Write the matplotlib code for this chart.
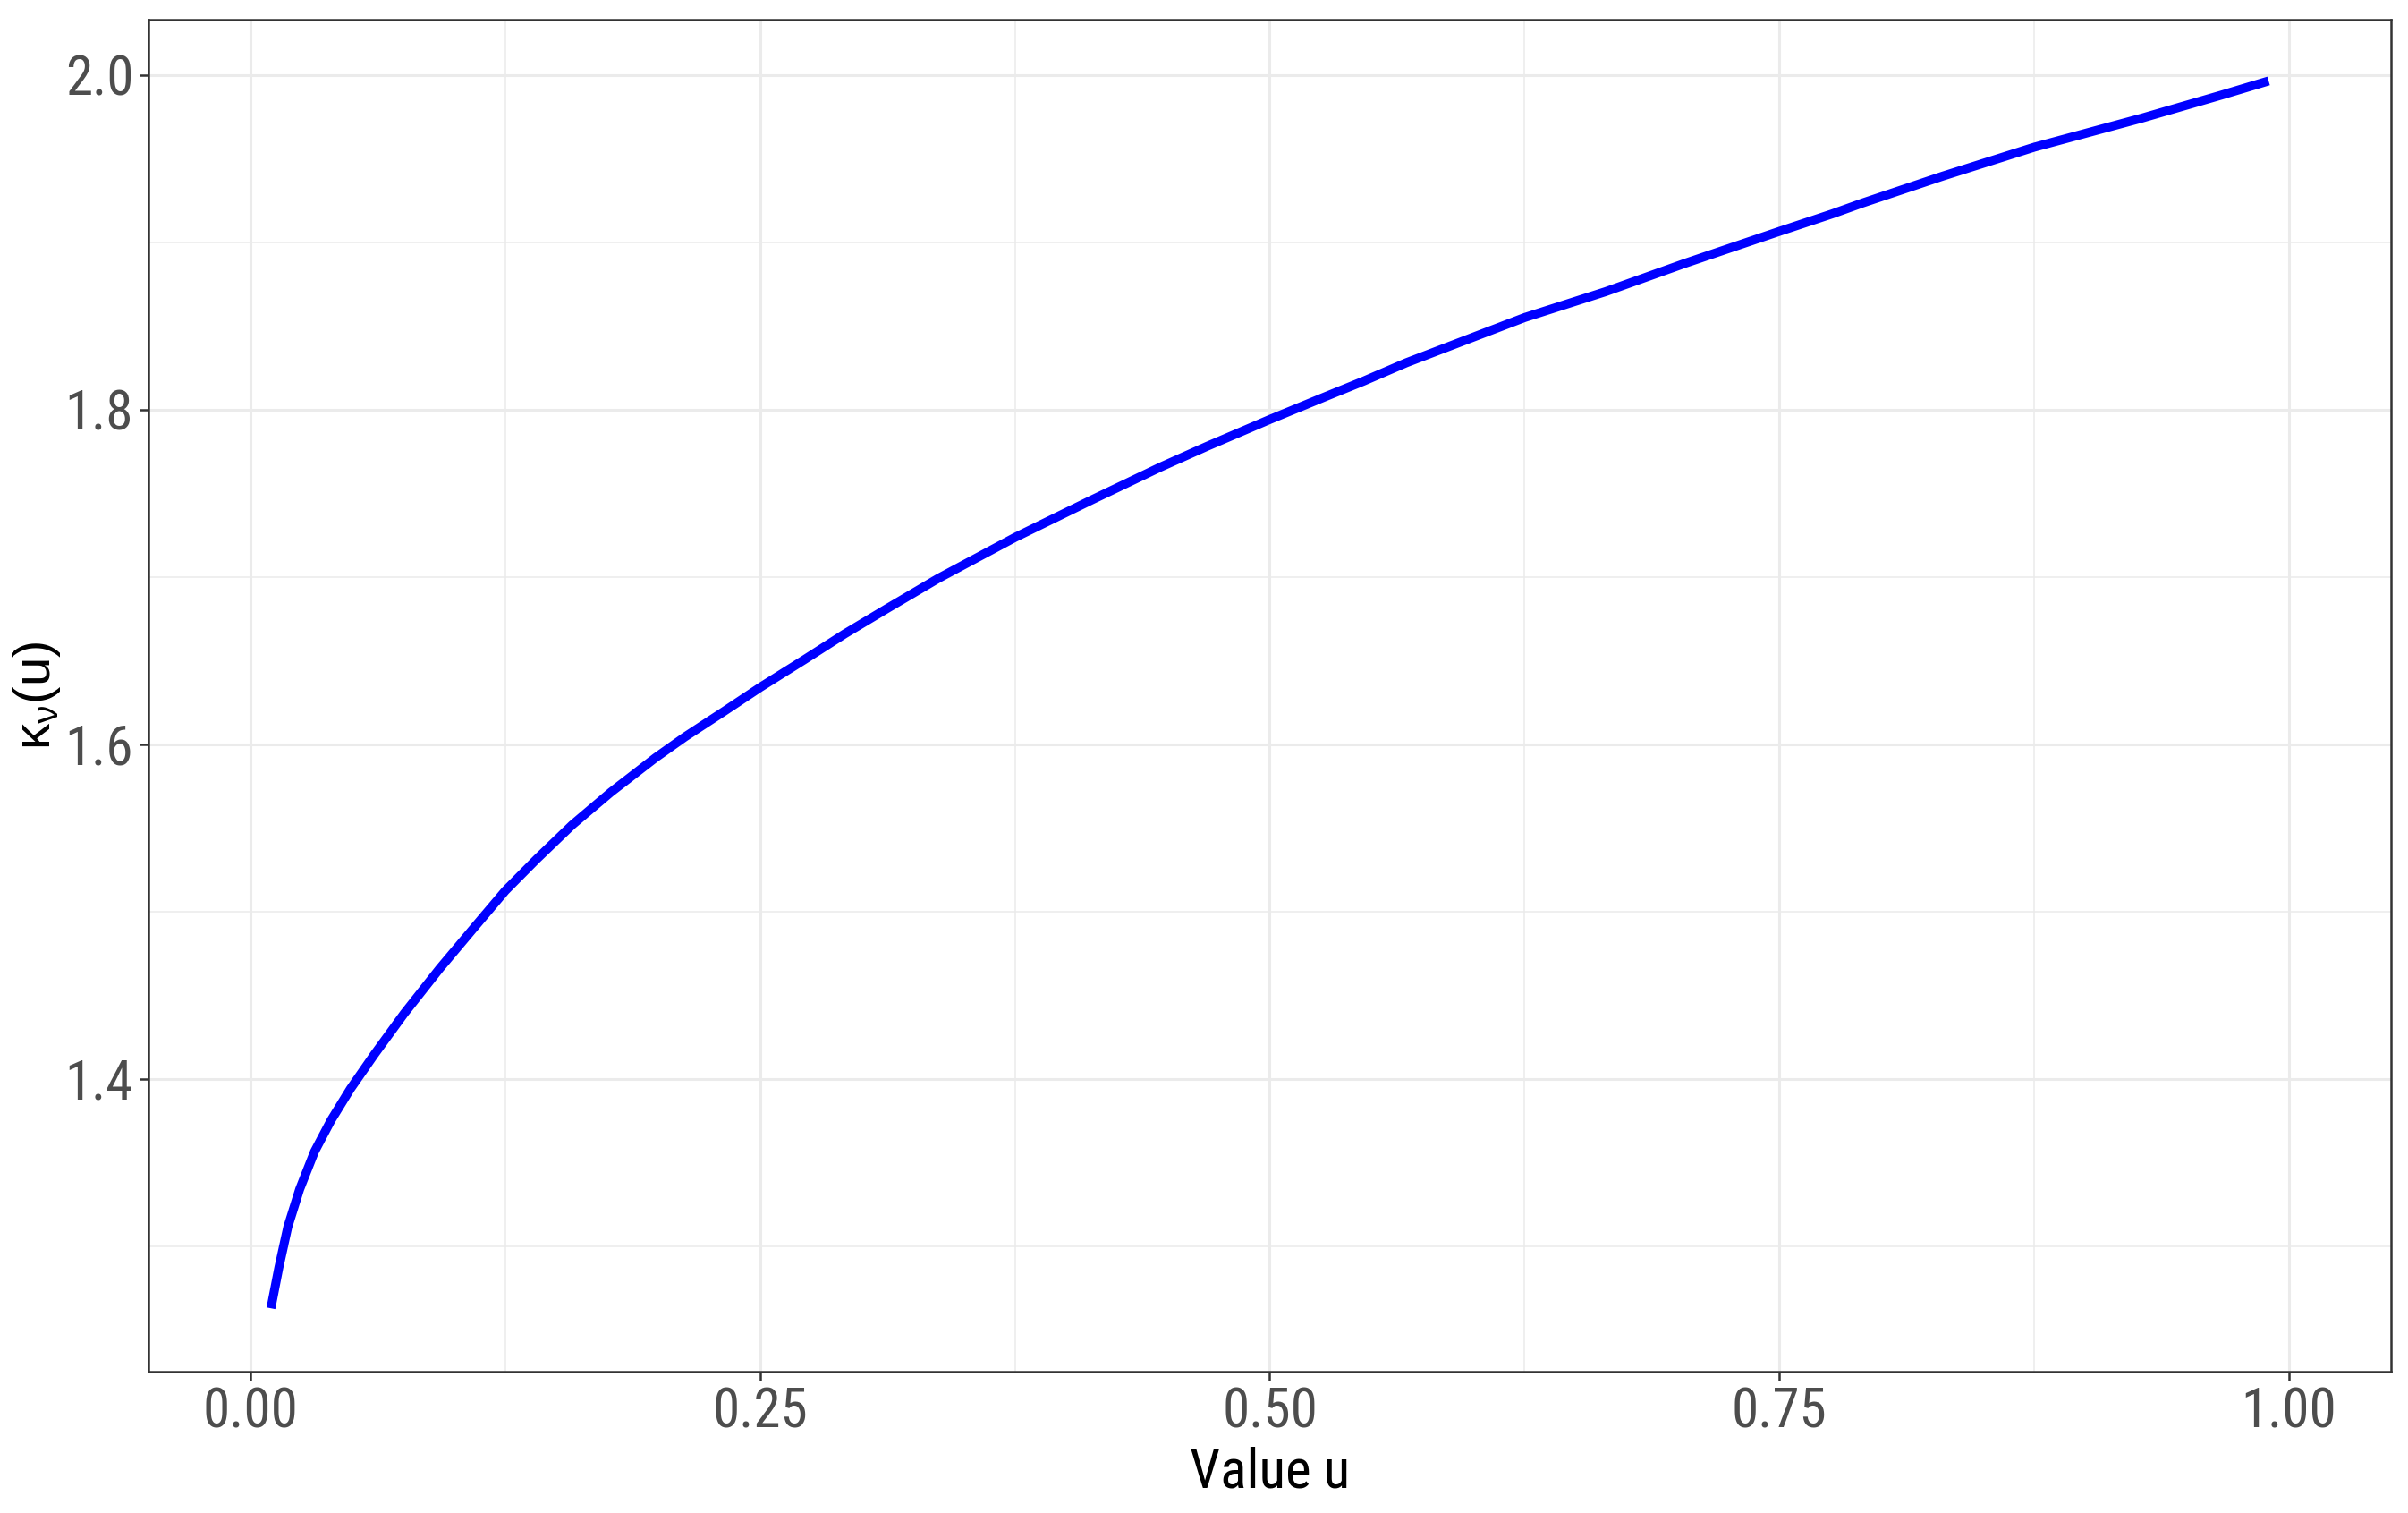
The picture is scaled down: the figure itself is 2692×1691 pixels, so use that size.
import matplotlib
matplotlib.use("Agg")
import matplotlib.pyplot as plt
from matplotlib import font_manager

# values
u_vals = [0.010, 0.0139, 0.0183, 0.0241, 0.0314, 0.0395, 0.049, 0.0607,
          0.0753, 0.0928, 0.1104, 0.125, 0.1403, 0.1578, 0.1768, 0.1987,
          0.2132, 0.2322, 0.25, 0.2716, 0.2915, 0.3121, 0.3372, 0.375,
          0.4128, 0.4463, 0.4691, 0.50, 0.5278, 0.546, 0.567, 0.625, 0.6648,
          0.7039, 0.75, 0.776, 0.7909, 0.8301, 0.875, 0.9279, 0.967, 0.99]
kappa_vals = [1.263, 1.2873, 1.3116, 1.3341, 1.3566, 1.3753, 1.3941, 1.4146,
              1.439, 1.466, 1.4915, 1.5125, 1.5313, 1.5518, 1.5714, 1.592,
              1.6045, 1.6196, 1.634, 1.6505, 1.666, 1.681, 1.699, 1.7236,
              1.7461, 1.7656, 1.778, 1.7941, 1.808, 1.817, 1.828, 1.855,
              1.8705, 1.8875, 1.9065, 1.917, 1.9235, 1.9395, 1.9568, 1.9742,
              1.988, 1.9964]
x_ticks = [0.00, 0.25, 0.50, 0.75, 1.00]
x_ticklabels = ["0.00", "0.25", "0.50", "0.75", "1.00"]
y_ticks = [1.4, 1.6, 1.8, 2.0]
y_ticklabels = ["1.4", "1.6", "1.8", "2.0"]

# the reference uses a condensed sans; take one if it is installed
narrow = None
for f in font_manager.fontManager.ttflist:
    if f.style != "normal" or f.weight not in (400, "normal", "regular"):
        continue
    if f.name in ("Liberation Sans Narrow", "Arial Narrow", "Roboto Condensed",
                  "Open Sans Condensed") or (
            f.name == "DejaVu Sans" and "Condensed" in f.fname and "Bold" not in f.fname
            and "Oblique" not in f.fname):
        narrow = f.fname
        if "Liberation" in f.name:
            break
if narrow:
    tick_font = font_manager.FontProperties(fname=narrow)
else:
    tick_font = font_manager.FontProperties(family="Liberation Sans")

plt.rcParams["font.family"] = ["Liberation Sans", "DejaVu Sans"]
plt.rcParams["mathtext.fontset"] = "custom"
plt.rcParams["mathtext.rm"] = "Liberation Sans"
plt.rcParams["mathtext.it"] = "Liberation Sans"

fig = plt.figure(figsize=(13.46, 8.455), dpi=200)
ax = fig.add_axes([0.0617, 0.0935, 0.9312, 0.8935])

ax.plot(u_vals, kappa_vals, color="#0000FF", lw=3.6, solid_capstyle="butt",
        solid_joinstyle="round", zorder=3)

ax.set_xlim(-0.05, 1.05)
ax.set_ylim(1.2252, 2.033)

ax.set_xticks(x_ticks)
ax.set_xticklabels(x_ticklabels)
ax.set_yticks(y_ticks)
ax.set_yticklabels(y_ticklabels)
ax.set_xticks([0.125, 0.375, 0.625, 0.875], minor=True)
ax.set_yticks([1.3, 1.5, 1.7, 1.9], minor=True)

ax.grid(which="major", color="#EBEBEB", lw=1.1, zorder=0)
ax.grid(which="minor", color="#EBEBEB", lw=0.55, zorder=0)
ax.set_axisbelow(True)

ax.tick_params(which="major", length=3.6, width=0.9, color="#333333",
               labelcolor="#4D4D4D", pad=2.5)
ax.tick_params(which="minor", length=0)
for lab in ax.get_xticklabels() + ax.get_yticklabels():
    lab.set_fontproperties(tick_font)
    lab.set_fontsize(22)
for s in ax.spines.values():
    s.set_color("#333333")
    s.set_linewidth(0.9)

ax.set_xlabel("Value u", fontproperties=tick_font, fontsize=22, color="black", labelpad=3)
ax.set_ylabel(r"$\mathregular{κ_{ν}(u)}$", fontsize=21, color="black")
ax.yaxis.set_label_coords(-0.0385, 0.5)

fig.savefig("out.png", dpi=200, facecolor="white")
